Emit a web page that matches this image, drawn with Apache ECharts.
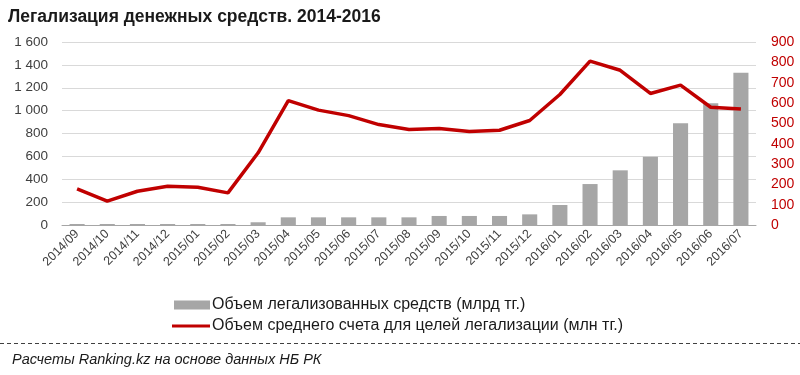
<!DOCTYPE html>
<html><head><meta charset="utf-8">
<script src="https://cdn.jsdelivr.net/npm/echarts@6/dist/echarts.min.js"></script>
<style>html,body{margin:0;padding:0;background:#fff}#c{width:800px;height:375px}</style>
</head><body><div id="c"></div>
<script>
var categories = ['2014/09','2014/10','2014/11','2014/12','2015/01','2015/02','2015/03','2015/04','2015/05','2015/06','2015/07','2015/08','2015/09','2015/10','2015/11','2015/12','2016/01','2016/02','2016/03','2016/04','2016/05','2016/06','2016/07'];
var legalizedVolume = [9, 9, 9, 9, 9, 9, 24, 67, 67, 67, 67, 67, 79, 79, 79, 93, 175, 358, 478, 597, 889, 1064, 1332];
var avgAccount = [178, 117, 166, 191, 186, 158, 355, 612, 565, 538, 494, 470, 475, 460, 466, 514, 642, 806, 761, 647, 688, 579, 571];
var leftTicks = [0, 200, 400, 600, 800, 1000, 1200, 1400, 1600];
var rightTicks = [0, 100, 200, 300, 400, 500, 600, 700, 800, 900];
var seriesNames = ['Объем легализованных средств (млрд тг.)', 'Объем среднего счета для целей легализации (млн тг.)'];

var font = 'Liberation Sans, Arial, sans-serif';
var chart = echarts.init(document.getElementById('c'), null, {renderer: 'canvas'});
function fmt(v){ var s = String(v); return s.length > 3 ? s.slice(0, s.length-3) + ' ' + s.slice(-3) : s; }
chart.setOption({
  animation: false,
  backgroundColor: '#fff',
  title: {
    text: 'Легализация денежных средств. 2014-2016',
    left: 3, top: 3,
    textStyle: {fontFamily: font, fontSize: 17.5, fontWeight: 'bold', color: '#1a1a1a'}
  },
  grid: {left: 62, right: 44, top: 42, bottom: 150, containLabel: false},
  legend: [
    {data: [{name: seriesNames[0], icon: 'rect'}], left: 169, top: 292, itemWidth: 36, itemHeight: 9, itemGap: 2,
     textStyle: {fontFamily: font, fontSize: 16, color: '#1a1a1a', padding: [0,0,0,-3]}},
    {data: [{name: seriesNames[1], icon: 'rect'}], left: 167, top: 313, itemWidth: 38, itemHeight: 3,
     textStyle: {fontFamily: font, fontSize: 16, color: '#1a1a1a', padding: [0,0,0,-3]}}
  ],
  xAxis: {
    type: 'category', data: categories,
    axisLine: {lineStyle: {color: '#a6a6a6', width: 1}},
    axisTick: {show: false},
    axisLabel: {rotate: 45, interval: 0, fontFamily: font, fontSize: 12.5, color: '#404040', margin: 7}
  },
  yAxis: [
    {type: 'value', min: leftTicks[0], max: leftTicks[leftTicks.length-1], interval: 200,
     axisLine: {show: false}, axisTick: {show: false},
     splitLine: {lineStyle: {color: '#d9d9d9'}},
     axisLabel: {fontFamily: font, fontSize: 13.5, color: '#404040', margin: 14, formatter: fmt}},
    {type: 'value', min: rightTicks[0], max: rightTicks[rightTicks.length-1], interval: 100,
     axisLine: {show: false}, axisTick: {show: false}, splitLine: {show: false},
     axisLabel: {fontFamily: font, fontSize: 14, color: '#c00000', margin: 15}}
  ],
  series: [
    {name: seriesNames[0], type: 'bar', yAxisIndex: 0, data: legalizedVolume, barWidth: '50%',
     itemStyle: {color: '#a6a6a6'}},
    {name: seriesNames[1], type: 'line', yAxisIndex: 1, data: avgAccount, showSymbol: false, symbol: 'none',
     lineStyle: {color: '#c00000', width: 3.5}, itemStyle: {color: '#c00000'}, z: 5}
  ],
  graphic: [
    {type: 'line', shape: {x1: 0, y1: 343.5, x2: 800, y2: 343.5}, style: {stroke: '#404040', lineWidth: 1, lineDash: [4, 3]}},
    {type: 'text', left: 12, top: 352, style: {text: 'Расчеты Ranking.kz на основе данных НБ РК', font: 'italic 14.5px ' + font, fill: '#1a1a1a'}}
  ]
});
</script></body></html>
